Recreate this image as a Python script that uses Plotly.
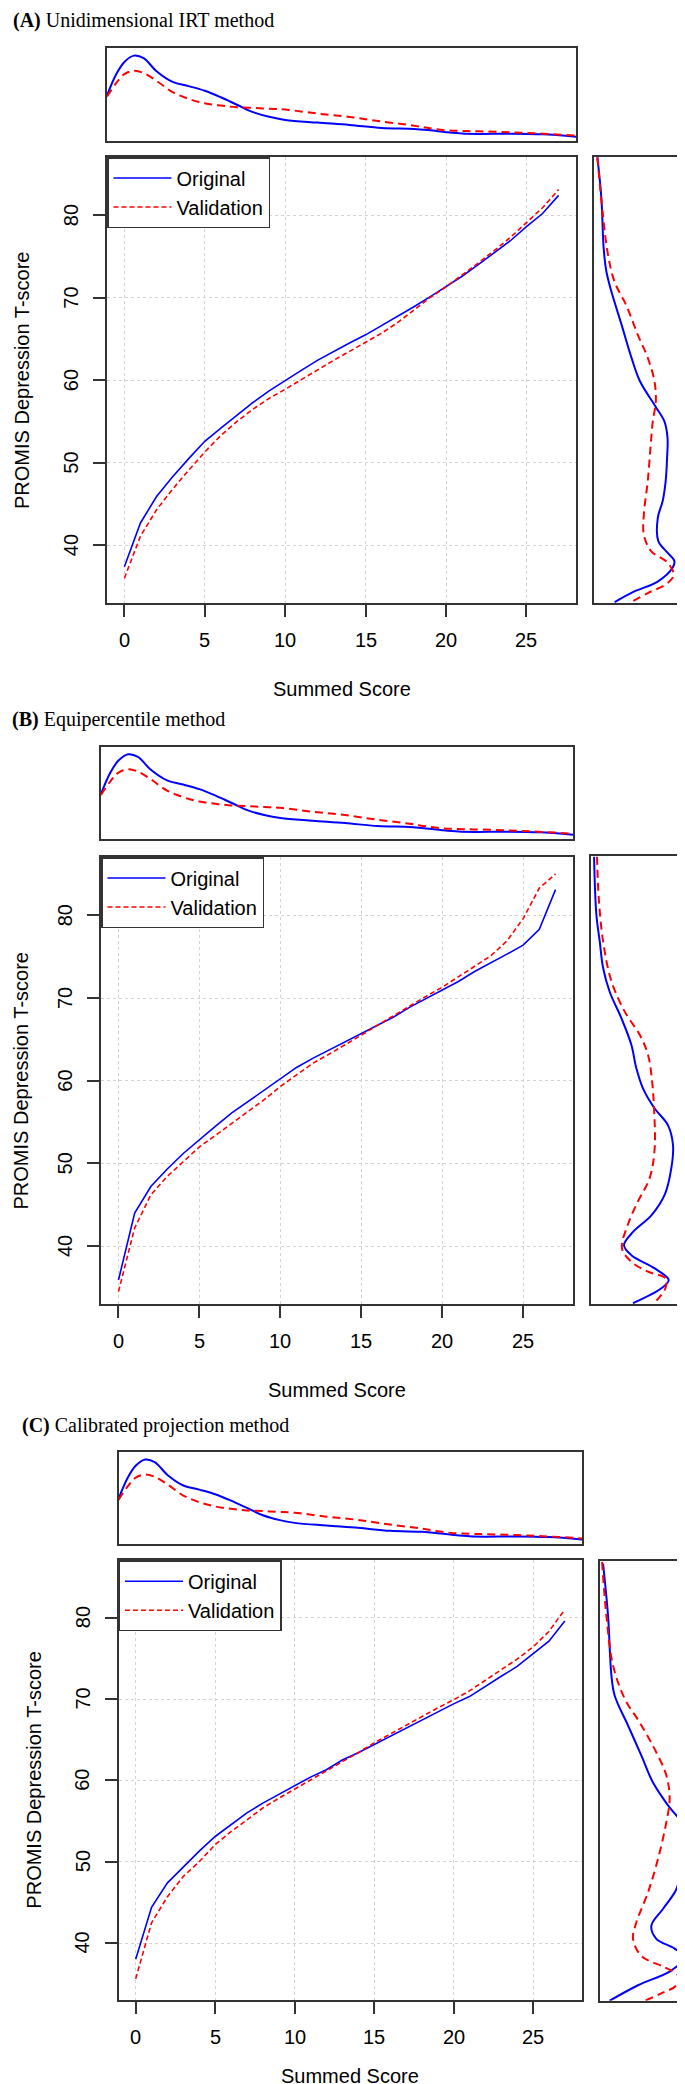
import plotly.graph_objects as go

W, H = 685, 2084

# ---------------- data ----------------
score = list(range(28))

irt_orig = [37.4, 42.7, 45.9, 48.3, 50.5, 52.6, 54.2, 55.8, 57.3, 58.7, 60.0, 61.2, 62.4, 63.5, 64.5,
            65.5, 66.6, 67.8, 68.9, 70.1, 71.3, 72.6, 74.0, 75.4, 76.9, 78.6, 80.2, 82.4]
irt_val = [36.0, 41.1, 44.3, 46.8, 49.1, 51.3, 53.3, 55.0, 56.5, 57.8, 58.9, 60.1, 61.3, 62.4, 63.5,
           64.6, 65.7, 67.0, 68.5, 70.0, 71.3, 72.7, 74.2, 75.7, 77.3, 79.1, 80.9, 83.1]

eq_orig = [35.9, 44.0, 47.2, 49.3, 51.2, 52.9, 54.5, 56.1, 57.5, 58.8, 60.3, 61.6, 62.7, 63.7, 64.7,
           65.6, 66.6, 67.7, 68.9, 69.9, 70.9, 72.0, 73.2, 74.2, 75.3, 76.4, 78.3, 83.1]
eq_val = [34.5, 42.2, 46.2, 48.4, 50.2, 52.0, 53.4, 54.8, 56.3, 57.7, 59.3, 60.7, 62.1, 63.2, 64.3,
          65.5, 66.7, 67.9, 69.1, 70.2, 71.3, 72.6, 73.8, 75.1, 76.9, 79.6, 83.3, 85.0]

cp_orig = [38.0, 44.4, 47.4, 49.4, 51.3, 53.1, 54.5, 56.0, 57.2, 58.3, 59.4, 60.4, 61.3, 62.5, 63.4,
           64.4, 65.4, 66.4, 67.5, 68.4, 69.4, 70.3, 71.6, 72.8, 74.0, 75.5, 77.1, 79.6]
cp_val = [35.6, 42.5, 45.7, 48.2, 50.0, 52.1, 53.7, 55.2, 56.6, 57.8, 58.9, 60.1, 61.1, 62.3, 63.4,
          64.6, 65.7, 66.8, 67.9, 68.9, 69.9, 71.0, 72.3, 73.6, 74.9, 76.4, 78.3, 81.0]

# marginal density of the summed score (relative units), same sample in every panel
dens_score = [-1.08, -0.5, 0, 0.6, 1.2, 2, 3, 4, 5, 6, 7, 8, 9, 10, 12, 14, 16, 18, 19, 20, 21, 22,
              24, 26, 28.08]
dens_score_orig = [0.489, 0.72, 0.85, 0.918, 0.89, 0.75, 0.635, 0.59, 0.54, 0.47, 0.39, 0.31, 0.26,
                   0.227, 0.198, 0.173, 0.14, 0.13, 0.115, 0.095, 0.08, 0.076, 0.079, 0.072, 0.047]
dens_score_val = [0.478, 0.625, 0.72, 0.755, 0.73, 0.647, 0.525, 0.453, 0.406, 0.381, 0.363, 0.356,
                  0.347, 0.338, 0.295, 0.259, 0.209, 0.165, 0.137, 0.115, 0.108, 0.104, 0.094, 0.079,
                  0.058]

# marginal densities of the T-score (relative units)
irt_t_orig = [87.0, 82.1, 76.0, 73.2, 70.8, 66.8, 62.7, 59.9, 56.7, 55.0, 53.0, 50.6, 47.8, 45.4,
              43.3, 40.5, 39.1, 38.1, 37.3, 35.6, 34.4, 33.1]
irt_d_orig = [0.04, 0.083, 0.108, 0.137, 0.19, 0.30, 0.41, 0.50, 0.676, 0.766, 0.80, 0.795, 0.78,
              0.748, 0.694, 0.70, 0.80, 0.874, 0.856, 0.694, 0.44, 0.227]
irt_t_val = [87.0, 80.0, 75.2, 71.9, 69.1, 65.5, 62.7, 59.9, 57.4, 55.0, 51.8, 47.8, 43.7, 41.3,
             39.3, 37.9, 36.4, 35.4, 34.2, 33.1]
irt_d_val = [0.04, 0.10, 0.155, 0.227, 0.352, 0.478, 0.586, 0.658, 0.673, 0.64, 0.615, 0.586, 0.543,
             0.543, 0.622, 0.80, 0.867, 0.80, 0.586, 0.406]

eq_t_orig = [87.0, 80.0, 76.8, 73.6, 70.7, 67.5, 64.3, 61.5, 59.0, 56.6, 54.6, 52.2, 49.4, 46.2,
             43.7, 41.7, 40.1, 38.9, 37.3, 35.9, 34.9, 33.1]
eq_d_orig = [0.036, 0.061, 0.097, 0.133, 0.204, 0.33, 0.437, 0.49, 0.563, 0.688, 0.83, 0.885, 0.867,
             0.796, 0.652, 0.455, 0.358, 0.437, 0.688, 0.839, 0.76, 0.455]
eq_t_val = [87.0, 82.1, 76.8, 72.0, 68.3, 65.5, 63.1, 59.9, 56.6, 51.8, 48.2, 45.4, 42.6, 39.7,
            38.1, 36.9, 36.1, 34.9, 33.1]
eq_d_val = [0.068, 0.086, 0.133, 0.222, 0.366, 0.527, 0.616, 0.66, 0.681, 0.688, 0.634, 0.509, 0.40,
            0.337, 0.437, 0.616, 0.803, 0.803, 0.681]

cp_t_orig = [86.7, 80.3, 73.0, 70.5, 66.8, 63.1, 59.8, 57.0, 54.9, 52.9, 49.2, 46.7, 44.3, 42.2,
             40.6, 39.4, 38.3, 36.7, 34.9, 33.0]
cp_d_orig = [0.037, 0.092, 0.129, 0.165, 0.313, 0.46, 0.588, 0.754, 0.90, 0.945, 0.90, 0.846, 0.70,
             0.57, 0.625, 0.827, 0.93, 0.79, 0.423, 0.11]
cp_t_val = [86.9, 80.3, 74.2, 70.1, 67.2, 63.9, 60.7, 57.8, 54.9, 50.4, 46.3, 42.6, 40.6, 38.5,
            37.1, 36.1, 34.9, 33.9, 32.9]
cp_d_val = [0.026, 0.074, 0.147, 0.276, 0.44, 0.607, 0.735, 0.772, 0.735, 0.643, 0.533, 0.404,
            0.368, 0.46, 0.717, 0.864, 0.846, 0.68, 0.478]

x_ticks = [0, 5, 10, 15, 20, 25]
y_ticks = [40, 50, 60, 70, 80]
x_tick_labels = ["0", "5", "10", "15", "20", "25"]
y_tick_labels = ["40", "50", "60", "70", "80"]
series_names = ["Original", "Validation"]
panel_titles = ["<b>(A)</b> Unidimensional IRT method",
                "<b>(B)</b> Equipercentile method",
                "<b>(C)</b> Calibrated projection method"]
x_title = "Summed Score"
y_title = "PROMIS Depression T-score"

# ---------------- layout geometry (pixels) ----------------
panels = [
    dict(main=(99, 568, 149, 595), top=(99, 568, 40, 133), side=(585.7, 678, 149, 595),
         title=(3, 12), xt_shift=-86, yt_shift=-85,
         curves=(irt_orig, irt_val), side_d=((irt_d_orig, irt_t_orig), (irt_d_val, irt_t_val))),
    dict(main=(93, 565, 849, 1296), top=(93, 565, 738.7, 831), side=(582.7, 675.7, 848.3, 1296),
         title=(2, 711.5), xt_shift=-86, yt_shift=-81,
         curves=(eq_orig, eq_val), side_d=((eq_d_orig, eq_t_orig), (eq_d_val, eq_t_val))),
    dict(main=(110.5, 574, 1552.3, 1992), top=(110.5, 574, 1444, 1535.7),
         side=(591.7, 682.3, 1552.7, 1992.7),
         title=(12, 1417.5), xt_shift=-76, yt_shift=-84,
         curves=(cp_orig, cp_val), side_d=((cp_d_orig, cp_t_orig), (cp_d_val, cp_t_val))),
]

XR = [-1.08, 28.08]
YR = [33.0, 87.05]

BLUE = "#0000FF"
RED = "#FF0000"
BOX = "#333333"
SANS = "Liberation Sans, Arial, Helvetica, sans-serif"
SERIF = "Liberation Serif, Times New Roman, serif"
TXT = dict(family=SANS, size=20, color="black")


def fx(p):
    return p / W


def fy(p):
    return 1 - p / H


def sfx(n):
    return "" if n == 1 else str(n)


fig = go.Figure()
layout = dict(width=W, height=H, margin=dict(l=0, r=0, t=0, b=0),
              paper_bgcolor="white", plot_bgcolor="white", showlegend=True,
              font=TXT)
annotations = []

for i, p in enumerate(panels):
    k = 3 * i
    mid, tid, sid = sfx(k + 1), sfx(k + 2), sfx(k + 3)
    mx0, mx1, my0, my1 = p["main"]
    tx0, tx1, ty0, ty1 = p["top"]
    sx0, sx1, sy0, sy1 = p["side"]
    leg = "legend" if i == 0 else f"legend{i + 1}"

    box = dict(showline=True, mirror=True, linecolor=BOX, linewidth=1.5, zeroline=False)
    grid = dict(showgrid=True, gridcolor="#d3d3d3", griddash="dot", gridwidth=1)
    tick = dict(ticks="outside", ticklen=12, tickwidth=1.5, tickcolor=BOX, showticklabels=False,
                tickmode="array")

    layout[f"xaxis{mid}"] = dict(domain=[fx(mx0), fx(mx1)], range=XR, anchor=f"y{mid}",
                                 tickvals=x_ticks, **tick, **grid, **box)
    layout[f"yaxis{mid}"] = dict(domain=[fy(my1), fy(my0)], range=YR, anchor=f"x{mid}",
                                 tickvals=y_ticks, **tick, **grid, **box)
    layout[f"xaxis{tid}"] = dict(domain=[fx(tx0), fx(tx1)], range=XR, anchor=f"y{tid}",
                                 showticklabels=False, ticks="", showgrid=False, **box)
    layout[f"yaxis{tid}"] = dict(domain=[fy(ty1), fy(ty0)], range=[0, 1], anchor=f"x{tid}",
                                 showticklabels=False, ticks="", showgrid=False, **box)
    layout[f"xaxis{sid}"] = dict(domain=[fx(sx0), fx(sx1)], range=[0, 1], anchor=f"y{sid}",
                                 showticklabels=False, ticks="", showgrid=False, **box)
    layout[f"yaxis{sid}"] = dict(domain=[fy(sy1), fy(sy0)], range=YR, anchor=f"x{sid}",
                                 showticklabels=False, ticks="", showgrid=False, **box)

    layout[leg] = dict(x=fx(mx0), y=fy(my0), xanchor="left", yanchor="top", bgcolor="white",
                       bordercolor=BOX, borderwidth=1.5, font=TXT,
                       itemwidth=58, tracegroupgap=0)

    orig, val = p["curves"]
    for name, ys, col, dash in ((series_names[0], orig, BLUE, "solid"),
                                (series_names[1], val, RED, "5px,3px")):
        fig.add_trace(go.Scatter(x=score, y=ys, mode="lines", name=name, legend=leg,
                                 line=dict(color=col, width=1.6, dash=dash),
                                 xaxis=f"x{mid}", yaxis=f"y{mid}"))

    for ys, col, dash in ((dens_score_orig, BLUE, "solid"), (dens_score_val, RED, "8px,5px")):
        fig.add_trace(go.Scatter(x=dens_score, y=ys, mode="lines", showlegend=False,
                                 line=dict(color=col, width=2, dash=dash, shape="spline",
                                           smoothing=1),
                                 xaxis=f"x{tid}", yaxis=f"y{tid}"))

    (do, to), (dv, tv) = p["side_d"]
    for xs, ys, col, dash in ((do, to, BLUE, "solid"), (dv, tv, RED, "8px,5px")):
        fig.add_trace(go.Scatter(x=xs, y=ys, mode="lines", showlegend=False,
                                 line=dict(color=col, width=2, dash=dash, shape="spline",
                                           smoothing=1),
                                 xaxis=f"x{sid}", yaxis=f"y{sid}"))

    # tick labels (placed through the axes' own scales)
    for v, lab in zip(x_ticks, x_tick_labels):
        annotations.append(dict(text=lab, x=v, xref=f"x{mid}", y=0, yref=f"y{mid} domain",
                                yshift=-37, xanchor="center", yanchor="middle",
                                showarrow=False, font=TXT))
    for v, lab in zip(y_ticks, y_tick_labels):
        annotations.append(dict(text=lab, y=v, yref=f"y{mid}", x=0, xref=f"x{mid} domain",
                                xshift=-36, xanchor="center", yanchor="middle", textangle=-90,
                                showarrow=False, font=TXT))

    # panel title
    annotations.append(dict(text=panel_titles[i], x=fx(p["title"][0]), y=fy(p["title"][1]),
                            xref="paper", yref="paper", xanchor="left", yanchor="middle",
                            showarrow=False, font=dict(family=SERIF, size=20, color="black")))
    # axis titles
    annotations.append(dict(text=x_title, xref=f"x{mid} domain", yref=f"y{mid} domain",
                            x=0.5, y=0, yshift=p["xt_shift"], xanchor="center", yanchor="middle",
                            showarrow=False, font=TXT))
    annotations.append(dict(text=y_title, xref=f"x{mid} domain", yref=f"y{mid} domain",
                            x=0, y=0.5, xshift=p["yt_shift"], xanchor="center", yanchor="middle",
                            textangle=-90, showarrow=False, font=TXT))

layout["annotations"] = annotations
fig.update_layout(**layout)
fig.write_html("out.html")
